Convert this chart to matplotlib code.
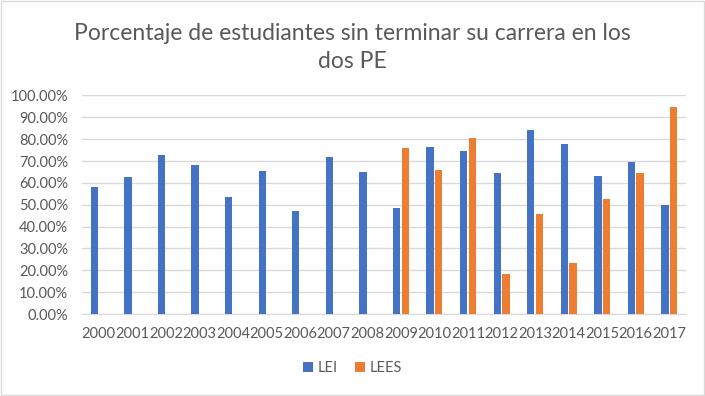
import numpy as np
import matplotlib.pyplot as plt
from matplotlib.ticker import PercentFormatter

plt.rcParams['font.family'] = ['Lato', 'DejaVu Sans']

years = [str(y) for y in range(2000, 2018)]
lei = [58.0, 62.8, 72.8, 68.3, 53.5, 65.5, 47.2, 72.0, 65.1,
       48.3, 76.2, 74.8, 64.3, 84.4, 77.6, 63.1, 69.7, 49.9]
lees = [np.nan] * 9 + [76.0, 65.7, 80.7, 18.1, 45.6, 23.5, 52.8, 64.3, 94.8]

blue = '#4472C4'
orange = '#ED7D31'
grey = '#595959'

fig = plt.figure(figsize=(7.05, 3.96), dpi=100)
ax = fig.add_axes([0.1163, 0.207, 0.857, 0.552])

x = np.arange(len(years))
w = 0.22
ax.bar(x - 0.13, np.array(lei) / 100, w, color=blue, label='LEI', zorder=3)
ax.bar(x + 0.13, np.array(lees) / 100, w, color=orange, label='LEES', zorder=3)

ax.set_xlim(-0.5, len(years) - 0.5)
ax.set_ylim(0, 1.0)
ax.set_yticks(np.arange(0, 1.01, 0.1))
ax.yaxis.set_major_formatter(PercentFormatter(1.0, decimals=2))
ax.set_xticks(x)
ax.set_xticklabels(years)
ax.tick_params(axis='both', length=0, colors=grey, labelsize=10.5)
ax.tick_params(axis='x', pad=9)
ax.tick_params(axis='y', pad=10)
ax.grid(axis='y', color='#d9d9d9', linewidth=1, zorder=0)
for s in ['top', 'right', 'left']:
    ax.spines[s].set_visible(False)
ax.spines['bottom'].set_color('#d9d9d9')

fig.text(0.5, 0.88, 'Porcentaje de estudiantes sin terminar su carrera en los\ndos PE',
         ha='center', va='center', fontsize=16.5, color=grey, linespacing=1.4)

ax.legend(loc='center', bbox_to_anchor=(0.5, 0.07), bbox_transform=fig.transFigure,
          ncol=2, frameon=False, fontsize=10.5, labelcolor=grey,
          handlelength=0.7, handleheight=0.7, handletextpad=0.3, columnspacing=1.2)

fig.patches.append(plt.Rectangle((0.001, 0.002), 0.997, 0.995, transform=fig.transFigure,
                                 fill=False, edgecolor='#d9d9d9', linewidth=1))

fig.savefig('out.png', dpi=100)
